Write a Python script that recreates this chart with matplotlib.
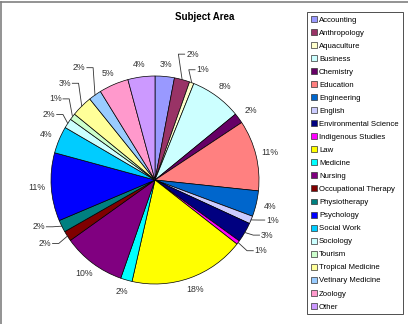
import numpy as np
import matplotlib
matplotlib.use('Agg')
import matplotlib.pyplot as plt
from matplotlib.patches import Patch

plt.rcParams['font.family'] = ['Liberation Sans', 'DejaVu Sans']

subjects = ['Accounting', 'Anthropology', 'Aquaculture', 'Business', 'Chemistry',
            'Education', 'Engineering', 'English', 'Environmental Science',
            'Indigenous Studies', 'Law', 'Medicine', 'Nursing', 'Occupational Therapy',
            'Physiotherapy', 'Psychology', 'Social Work', 'Sociology', 'Tourism',
            'Tropical Medicine', 'Vetinary Medicine', 'Zoology', 'Other']
share = [3.0, 2.4, 0.7, 8.0, 1.6, 11.0, 4.0, 1.2, 3.1, 0.6, 18.0, 1.8, 9.8, 1.6,
         1.9, 10.6, 4.2, 1.5, 1.0, 3.3, 2.0, 4.6, 4.2]
pct_labels = ['3%', '2%', '1%', '8%', '2%', '11%', '4%', '1%', '3%', '1%', '18%', '2%',
              '10%', '2%', '2%', '11%', '4%', '2%', '1%', '3%', '2%', '5%', '4%']
colors = ['#9999FF', '#993366', '#FFFFCC', '#CCFFFF', '#660066', '#FF8080', '#0066CC',
          '#CCCCFF', '#000080', '#FF00FF', '#FFFF00', '#00FFFF', '#800080', '#800000',
          '#008080', '#0000FF', '#00CCFF', '#CCFFFF', '#CCFFCC', '#FFFF99', '#99CCFF',
          '#FF99CC', '#CC99FF']

# labels moved out of the crowd, drawn with a leader line (pie radius = 1)
leader_pos = {'Anthropology': (0.36, 1.21), 'Aquaculture': (0.46, 1.06),
              'English': (1.13, -0.385), 'Environmental Science': (1.08, -0.53),
              'Indigenous Studies': (1.02, -0.68), 'Occupational Therapy': (-1.06, -0.61),
              'Physiotherapy': (-1.12, -0.45), 'Sociology': (-1.02, 0.63),
              'Tourism': (-0.96, 0.78), 'Tropical Medicine': (-0.87, 0.93),
              'Vetinary Medicine': (-0.73, 1.08)}

fig = plt.figure(figsize=(4.08, 3.24), dpi=100)
fig.patch.set_facecolor('white')

# chart border (top and left visible)
fig.add_artist(plt.Line2D([0.003, 1.0], [0.994, 0.994], color='#808080', lw=1.2))
fig.add_artist(plt.Line2D([0.003, 0.003], [0.0, 0.994], color='#808080', lw=1.2))

ax = fig.add_axes([25 / 408, 14 / 324, 260 / 408, 260 / 324])
wedges, _ = ax.pie(share, colors=colors, startangle=90, counterclock=False,
                   wedgeprops=dict(edgecolor='black', linewidth=0.5))
ax.set_xlim(-1.25, 1.25)
ax.set_ylim(-1.25, 1.25)
ax.set_aspect('equal')
ax.axis('off')

for w, name, lab in zip(wedges, subjects, pct_labels):
    ang = np.deg2rad((w.theta1 + w.theta2) / 2)
    c, s = np.cos(ang), np.sin(ang)
    if name in leader_pos:
        tx, ty = leader_pos[name]
        side = 1 if tx > c else -1
        # short horizontal run next to the text, then straight to the slice edge
        x0 = tx - side * 0.075
        x1 = x0 - side * 0.06
        ax.plot([x0, x1, c], [ty, ty, s], color='#333333', lw=0.6)
        ax.text(tx, ty, lab, ha='center', va='center', fontsize=6.3, color='#333333')
    else:
        ax.text(1.14 * c, 1.12 * s, lab, ha='center', va='center',
                fontsize=6.3, color='#333333')

fig.text(205 / 408, 1 - 17 / 324, 'Subject Area', ha='center', va='center',
         fontsize=7, fontweight='bold')

handles = [Patch(facecolor=col, edgecolor='#333333', linewidth=0.5) for col in colors]
leg = fig.legend(handles, subjects, loc='upper left',
                 bbox_to_anchor=(307 / 408, 1 - 12 / 324), fontsize=5.6,
                 frameon=True, fancybox=False, edgecolor='black',
                 handlelength=0.8, handleheight=0.8, handletextpad=0.25,
                 labelspacing=0.69, borderpad=0.5, borderaxespad=0)
leg.get_frame().set_linewidth(0.6)

fig.savefig('out.png', dpi=100)
